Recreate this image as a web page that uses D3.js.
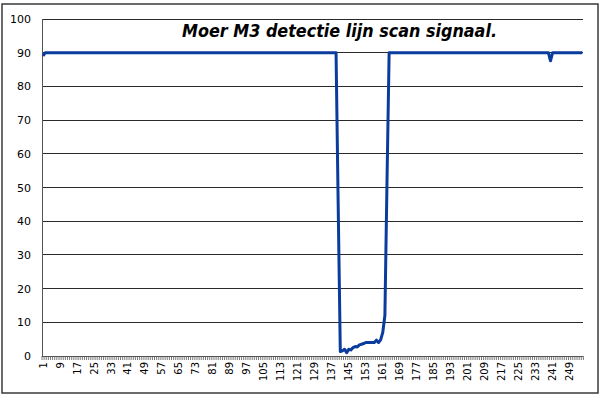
<!DOCTYPE html>
<meta charset="utf-8">
<style>body { margin: 0; } svg { display: block; }</style>
<svg width="600" height="400"></svg>
<script src="https://d3js.org/d3.v7.min.js"></script>
<script>
// scan positions 1..255, signal is flat at 90 except for the M3 notch
var nCats = 255
var yTicks = [0, 10, 20, 30, 40, 50, 60, 70, 80, 90, 100]
var baseLevel = 90
// the positions where the signal differs from the base level
var notchCats = [1, 140, 141, 142, 143, 144, 145, 146, 147, 148, 149, 150, 151, 152, 153, 154, 155, 156, 157, 158, 159, 160, 161, 162, 163, 240]
var notchVals = [89, 45, 1.3, 1.5, 2, 1, 2, 1.8, 2.5, 2.8, 2.7, 3.3, 3.5, 3.7, 4, 4, 4, 4, 4, 4.7, 4, 4.8, 7, 12, 52, 87.6]
var title = 'Moer M3 detectie lijn scan signaal.'

var cats = d3.range(1, nCats + 1)
var values = cats.map(function (c) {
  var i = notchCats.indexOf(c)
  return i > -1 ? notchVals[i] : baseLevel
})

var svg = d3.select('svg')
svg.append('rect').attr('width', 600).attr('height', 400).attr('fill', '#fff')
svg.append('rect')
  .attr('x', 2).attr('y', 4).attr('width', 596).attr('height', 389)
  .attr('fill', 'none').attr('stroke', '#3a3a3a').attr('stroke-width', 1.5)

// plot area (window.top is read-only, so keep these names distinct)
var pLeft = 42, pRight = 583.4, pTop = 19, pBottom = 356

var x = d3.scaleBand().domain(cats).range([pLeft, pRight])
var y = d3.scaleLinear().domain([0, 100]).range([pBottom, pTop])

// gridlines
svg.append('g').selectAll('line').data(yTicks.slice(1)).enter().append('line')
  .attr('x1', pLeft).attr('x2', pRight)
  .attr('y1', function (d) { return y(d) }).attr('y2', function (d) { return y(d) })
  .attr('stroke', '#2a2a2a').attr('stroke-width', 1)
  .attr('shape-rendering', 'crispEdges')

// y axis
svg.append('line').attr('x1', pLeft).attr('x2', pLeft).attr('y1', pTop).attr('y2', pBottom)
  .attr('stroke', '#555').attr('shape-rendering', 'crispEdges')
svg.append('g').selectAll('text').data(yTicks).enter().append('text')
  .attr('x', 31).attr('y', function (d) { return y(d) + 4 })
  .attr('text-anchor', 'end')
  .attr('font-family', 'DejaVu Sans').attr('font-size', 11)
  .text(function (d) { return d })

// x axis with a tick between every category
svg.append('line').attr('x1', pLeft).attr('x2', pRight).attr('y1', pBottom).attr('y2', pBottom)
  .attr('stroke', '#555').attr('shape-rendering', 'crispEdges')
var bounds = cats.map(function (c) { return x(c) }).concat([pRight])
svg.append('g').selectAll('line').data(bounds).enter().append('line')
  .attr('x1', function (d) { return d }).attr('x2', function (d) { return d })
  .attr('y1', pBottom).attr('y2', pBottom + 4)
  .attr('stroke', '#555').attr('stroke-width', 0.8)

var labelCats = cats.filter(function (c) { return (c - 1) % 8 === 0 })
svg.append('g').selectAll('text').data(labelCats).enter().append('text')
  .attr('transform', function (c) {
    return 'translate(' + (x(c) + x.bandwidth() / 2 + 3.5) + ',' + (pBottom + 6) + ') rotate(-90)'
  })
  .attr('text-anchor', 'end')
  .attr('font-family', 'DejaVu Sans').attr('font-size', 10)
  .text(function (c) { return c })

// signal line
var line = d3.line()
  .x(function (d, i) { return x(cats[i]) + x.bandwidth() / 2 })
  .y(function (d) { return y(d) })
svg.append('path').datum(values)
  .attr('d', line)
  .attr('fill', 'none').attr('stroke', '#0a3c9e').attr('stroke-width', 3)
  .attr('stroke-linejoin', 'round')

svg.append('text')
  .attr('x', 182).attr('y', 37)
  .attr('font-family', 'DejaVu Sans').attr('font-weight', 'bold').attr('font-style', 'italic')
  .attr('font-size', 17)
  .attr('textLength', 315).attr('lengthAdjust', 'spacingAndGlyphs')
  .text(title)
</script>
